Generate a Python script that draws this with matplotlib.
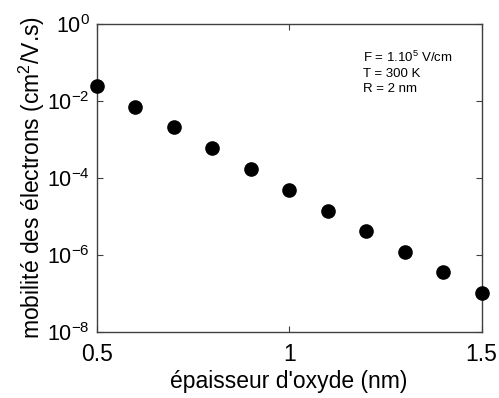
import matplotlib
matplotlib.use("Agg")
import matplotlib.pyplot as plt
from matplotlib.ticker import FixedLocator, NullLocator

thickness = [0.5, 0.6, 0.7, 0.8, 0.9, 1.0, 1.1, 1.2, 1.3, 1.4, 1.5]
mobility = [2.45e-2, 7.1e-3, 2.1e-3, 5.9e-4, 1.7e-4, 4.9e-5, 1.4e-5, 4.1e-6, 1.17e-6, 3.5e-7, 1.0e-7]
xticks = [0.5, 1.0, 1.5]
xticklabels = ["0.5", "1", "1.5"]
yticks = [1e-8, 1e-6, 1e-4, 1e-2, 1e0]
yticklabels = [r"10$^{-8}$", r"10$^{-6}$", r"10$^{-4}$", r"10$^{-2}$", r"10$^{0}$"]

plt.rcParams['font.family'] = ['Liberation Sans', 'DejaVu Sans']
plt.rcParams['mathtext.fontset'] = 'custom'
plt.rcParams['mathtext.rm'] = 'Liberation Sans'
plt.rcParams['mathtext.it'] = 'Liberation Sans'

fig = plt.figure(figsize=(4.99, 3.98), dpi=100)
ax = fig.add_axes([0.194, 0.166, 0.771, 0.774])
ax.plot(thickness, mobility, 'o', color='black', markersize=9.5, clip_on=False, zorder=5)
ax.set_yscale('log')
ax.set_xlim(0.5, 1.5)
ax.set_ylim(1e-8, 1e0)
ax.xaxis.set_major_locator(FixedLocator(xticks))
ax.set_xticklabels(xticklabels)
ax.yaxis.set_major_locator(FixedLocator(yticks))
ax.yaxis.set_minor_locator(NullLocator())
ax.set_yticklabels(yticklabels)
ax.tick_params(direction='in', length=4, width=0.8, color='#404040',
               top=True, right=True)
ax.tick_params(axis='x', pad=8, labelsize=16.5)
ax.tick_params(axis='y', pad=5, labelsize=15.5)
for s in ax.spines.values():
    s.set_color('#404040')
    s.set_linewidth(1.0)
ax.set_xlabel("épaisseur d'oxyde (nm)", fontsize=16.5, labelpad=3)
ax.set_ylabel(r"mobilité des électrons (cm$^{2}$/V.s)", fontsize=16.5, labelpad=0)
ax.text(0.692, 0.917, "F = 1.10$^{5}$ V/cm\nT = 300 K\nR = 2 nm", transform=ax.transAxes,
        fontsize=9.5, va='top', ha='left', linespacing=1.35)
fig.savefig("out.png", dpi=100)
